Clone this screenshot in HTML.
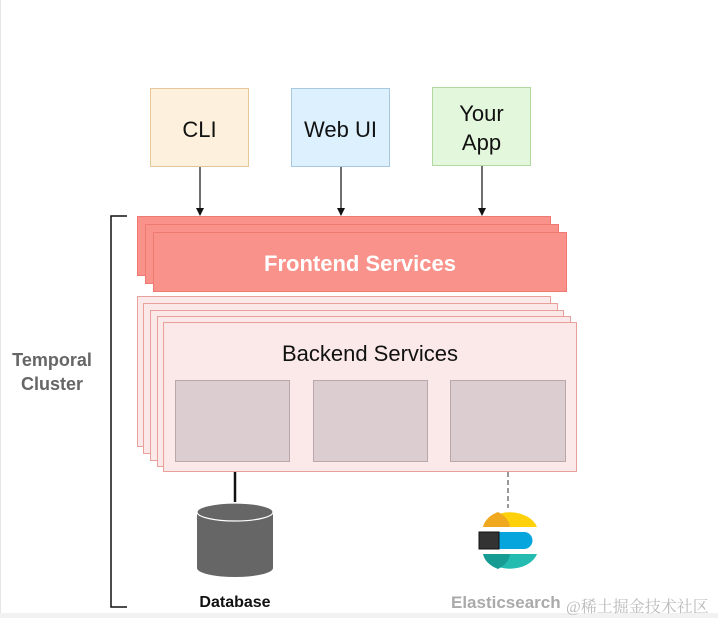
<!DOCTYPE html>
<html><head><style>
body{margin:0;width:718px;height:618px;background:#fff;position:relative;overflow:hidden;font-family:"Liberation Sans",Arial,sans-serif}
.a{position:absolute;box-sizing:border-box}
.top{border:1px solid;display:flex;align-items:center;justify-content:center;text-align:center;font-size:22px;line-height:29px;color:#111;padding-top:3px}
.fe{background:#f9928a;border:1px solid #ee7a72}
.be{background:#fae9e8;border:1px solid #e8a09a}
.in{background:#dccdd0;border:1px solid #b8a8ab}
</style></head><body>
<div class="a" style="left:0;top:0;width:1px;height:618px;background:#e6e6e6"></div>
<div class="a" style="left:0;top:613px;width:718px;height:5px;background:#f2f2f2"></div>

<div class="a top" style="left:150px;top:88px;width:99px;height:79px;background:#fdf0dc;border-color:#e6c898">CLI</div>
<div class="a top" style="left:291px;top:88px;width:99px;height:79px;background:#ddf0fd;border-color:#a8c8e0">Web UI</div>
<div class="a top" style="left:432px;top:87px;width:99px;height:79px;background:#e3f7dc;border-color:#b0d8a0">Your<br>App</div>

<svg class="a" style="left:0;top:0" width="718" height="618">
<defs><marker id="ar" markerWidth="8" markerHeight="8" refX="7" refY="4" orient="auto" markerUnits="userSpaceOnUse"><path d="M0,0 L8,4 L0,8z" fill="#111"/></marker></defs>
<line x1="200" y1="167" x2="200" y2="215" stroke="#111" stroke-width="1.2" marker-end="url(#ar)"/>
<line x1="341" y1="167" x2="341" y2="215" stroke="#111" stroke-width="1.2" marker-end="url(#ar)"/>
<line x1="482" y1="166" x2="482" y2="215" stroke="#111" stroke-width="1.2" marker-end="url(#ar)"/>
<path d="M127,216 H111 V607 H127" fill="none" stroke="#111" stroke-width="1.5"/>
</svg>

<div class="a fe" style="left:137px;top:216px;width:414px;height:60px"></div>
<div class="a fe" style="left:145px;top:224px;width:414px;height:60px"></div>
<div class="a fe" style="left:153px;top:232px;width:414px;height:60px;color:#fff;font-size:22px;font-weight:bold;display:flex;align-items:center;justify-content:center;padding-top:4px">Frontend Services</div>

<div class="a be" style="left:137px;top:296px;width:414px;height:151px"></div>
<div class="a be" style="left:143px;top:303px;width:415px;height:151px"></div>
<div class="a be" style="left:150px;top:310px;width:414px;height:151px"></div>
<div class="a be" style="left:157px;top:316px;width:414px;height:151px"></div>
<div class="a be" style="left:163px;top:322px;width:414px;height:150px"></div>
<div class="a" style="left:163px;top:341px;width:414px;text-align:center;font-size:22px;color:#111">Backend Services</div>
<div class="a in" style="left:175px;top:380px;width:115px;height:82px"></div>
<div class="a in" style="left:313px;top:380px;width:115px;height:82px"></div>
<div class="a in" style="left:450px;top:380px;width:116px;height:82px"></div>

<div class="a" style="left:0;top:348px;width:104px;text-align:center;font-weight:bold;font-size:18px;line-height:24px;color:#666">Temporal<br>Cluster</div>

<svg class="a" style="left:0;top:0" width="718" height="618">
<line x1="235" y1="472" x2="235" y2="502" stroke="#111" stroke-width="2.5"/>
<path d="M197,513 V568 A38,9 0 0 0 273,568 V513 Z" fill="#666"/>
<ellipse cx="235" cy="512" rx="38" ry="9" fill="#666" stroke="#fff" stroke-width="1.2"/>
<line x1="508" y1="472" x2="508" y2="508" stroke="#999" stroke-width="2" stroke-dasharray="5,3"/>
<path d="M483,527 A28,20 0 0 1 537,527 Z" fill="#fed10a"/>
<path d="M483,527 A28,20 0 0 1 498,512 A30,20 0 0 1 510,527 Z" fill="#f0a81f"/>
<path d="M483,554 A28,20 0 0 0 537,554 Z" fill="#24bbb1"/>
<path d="M483,554 A28,20 0 0 0 498,569 A30,20 0 0 0 510,554 Z" fill="#179c94"/>
<path d="M497,532 H524 A8,8 0 0 1 524,549 H497 Z" fill="#07a5de"/>
<rect x="479" y="532" width="20" height="17" fill="#333" stroke="#111"/>
</svg>

<div class="a" style="left:180px;top:594px;width:110px;text-align:center;font-weight:bold;font-size:16px;color:#111">Database</div>
<div class="a" style="left:451px;top:593px;font-weight:bold;font-size:17px;color:#aaa">Elasticsearch</div>
<div class="a" style="left:566px;top:594px;font-size:16px;color:#bbb;font-family:'Liberation Serif','Noto Serif CJK SC',serif">@稀土掘金技术社区</div>
</body></html>
